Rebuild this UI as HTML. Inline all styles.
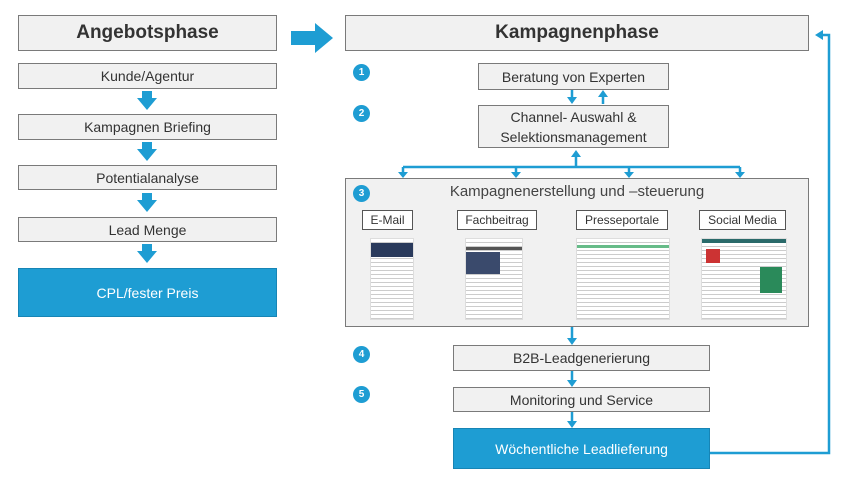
<!DOCTYPE html>
<html><head><meta charset="utf-8"><style>
body{margin:0;width:851px;height:486px;background:#fff;position:relative;overflow:hidden;font-family:"Liberation Sans",sans-serif;color:#333}
.b{position:absolute;box-sizing:border-box;background:#f1f1f1;border:1.5px solid #7a7a7a;display:flex;align-items:center;justify-content:center;text-align:center;font-size:14px;color:#333}
.blue{background:#1e9dd3;color:#fff;border-color:#1785b5}
.n{position:absolute;width:17px;height:17px;border-radius:50%;background:#1e9dd3;color:#fff;font-size:10px;font-weight:bold;display:flex;align-items:center;justify-content:center}
.l{position:absolute;box-sizing:border-box;background:#fff;border:1px solid #555;font-size:12px;display:flex;align-items:center;justify-content:center}
.t{position:absolute;background:#fff repeating-linear-gradient(#fff 0 3px,#ccc 3px 4px);border:1px solid #ddd;overflow:hidden}
</style></head><body>
<div class="b" style="left:18px;top:15px;width:259px;height:36px;font-size:19px;font-weight:bold">Angebotsphase</div>
<div class="b" style="left:18px;top:63px;width:259px;height:26px">Kunde/Agentur</div>
<div class="b" style="left:18px;top:114px;width:259px;height:26px">Kampagnen Briefing</div>
<div class="b" style="left:18px;top:165px;width:259px;height:25px">Potentialanalyse</div>
<div class="b" style="left:18px;top:217px;width:259px;height:25px">Lead Menge</div>
<div class="b blue" style="left:18px;top:268px;width:259px;height:49px">CPL/fester Preis</div>
<div class="b" style="left:345px;top:15px;width:464px;height:36px;font-size:19px;font-weight:bold">Kampagnenphase</div>
<div class="b" style="left:478px;top:63px;width:191px;height:27px">Beratung von Experten</div>
<div class="b" style="left:478px;top:105px;width:191px;height:43px;line-height:20px">Channel- Auswahl &amp;<br>Selektionsmanagement</div>
<div class="b" style="left:345px;top:178px;width:464px;height:149px;display:block"></div>
<div style="position:absolute;left:345px;top:183px;width:464px;text-align:center;font-size:15px;color:#444">Kampagnenerstellung und –steuerung</div>
<div class="l" style="left:362px;top:210px;width:51px;height:20px">E-Mail</div>
<div class="l" style="left:457px;top:210px;width:80px;height:20px">Fachbeitrag</div>
<div class="l" style="left:576px;top:210px;width:92px;height:20px">Presseportale</div>
<div class="l" style="left:699px;top:210px;width:87px;height:20px">Social Media</div>
<div class="t" style="left:370px;top:238px;width:42px;height:80px"><div style="height:14px;background:#2a3a5c;margin-top:4px"></div></div>
<div class="t" style="left:465px;top:238px;width:56px;height:80px"><div style="height:3px;background:#555;margin-top:8px"></div><div style="height:22px;width:34px;background:#3a4a6c;margin-top:2px"></div></div>
<div class="t" style="left:576px;top:238px;width:92px;height:80px"><div style="height:3px;background:#6b8;margin-top:6px"></div></div>
<div class="t" style="left:701px;top:238px;width:84px;height:80px"><div style="height:4px;background:#2a6a6a"></div><div style="width:14px;height:14px;background:#c33;margin:6px 4px"></div><div style="position:absolute;left:58px;top:28px;width:22px;height:26px;background:#2a8a5a"></div></div>
<div class="b" style="left:453px;top:345px;width:257px;height:26px">B2B-Leadgenerierung</div>
<div class="b" style="left:453px;top:387px;width:257px;height:25px">Monitoring und Service</div>
<div class="b blue" style="left:453px;top:428px;width:257px;height:41px">Wöchentliche Leadlieferung</div>
<div class="n" style="left:353px;top:64px">1</div>
<div class="n" style="left:353px;top:105px">2</div>
<div class="n" style="left:353px;top:185px">3</div>
<div class="n" style="left:353px;top:346px">4</div>
<div class="n" style="left:353px;top:386px">5</div>
<svg width="851" height="486" style="position:absolute;left:0;top:0" fill="#1e9dd3" stroke="none">
<polygon points="291,31 315,31 315,23 333,38 315,53 315,45 291,45"/>
<polygon points="142,91 152,91 152,98 157,98 147,110 137,98 142,98"/>
<polygon points="142,142 152,142 152,149 157,149 147,161 137,149 142,149"/>
<polygon points="142,193 152,193 152,200 157,200 147,212 137,200 142,200"/>
<polygon points="142,244 152,244 152,251 157,251 147,263 137,251 142,251"/>
<g stroke="#1e9dd3" stroke-width="2.5" fill="none">
<line x1="572" y1="90" x2="572" y2="98"/><line x1="603" y1="97" x2="603" y2="104"/>
<line x1="576" y1="156" x2="576" y2="167"/>
<line x1="403" y1="167" x2="740" y2="167"/>
<line x1="403" y1="167" x2="403" y2="172"/><line x1="516" y1="167" x2="516" y2="172"/><line x1="629" y1="167" x2="629" y2="172"/><line x1="740" y1="167" x2="740" y2="172"/>
<line x1="572" y1="327" x2="572" y2="338"/><line x1="572" y1="371" x2="572" y2="380"/><line x1="572" y1="412" x2="572" y2="421"/>
<polyline points="710,453 829,453 829,35 822,35"/>
</g>
<polygon points="567,97 577,97 572,104"/><polygon points="598,97 608,97 603,90"/>
<polygon points="571,157 581,157 576,150"/>
<polygon points="398,172 408,172 403,178"/><polygon points="511,172 521,172 516,178"/><polygon points="624,172 634,172 629,178"/><polygon points="735,172 745,172 740,178"/>
<polygon points="567,338 577,338 572,345"/><polygon points="567,380 577,380 572,387"/><polygon points="567,421 577,421 572,428"/>
<polygon points="823,30 823,40 815,35"/>
</svg>
</body></html>
